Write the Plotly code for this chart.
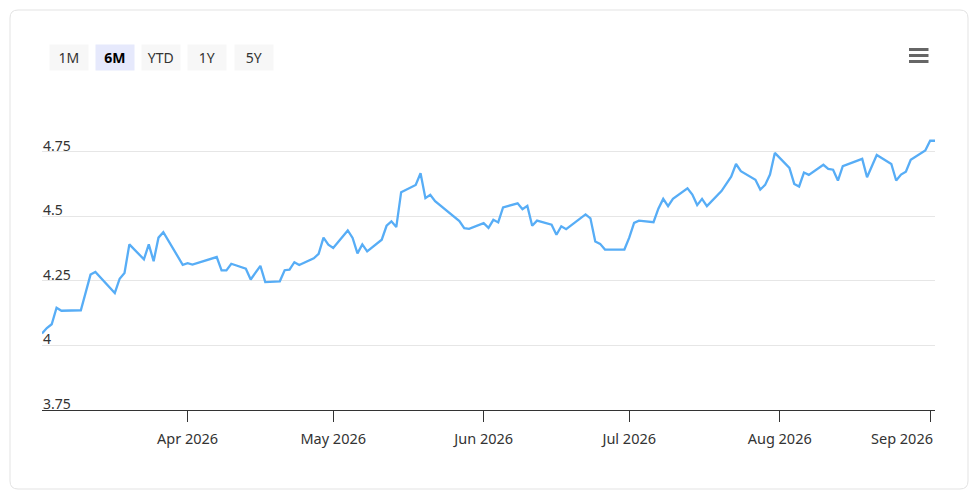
import plotly.graph_objects as go

dates = ["2026-03-02","2026-03-03","2026-03-04","2026-03-05","2026-03-06","2026-03-10","2026-03-12","2026-03-13",
         "2026-03-17","2026-03-18","2026-03-19","2026-03-20","2026-03-23","2026-03-24","2026-03-25","2026-03-26",
         "2026-03-27","2026-03-31","2026-04-01","2026-04-02","2026-04-07","2026-04-08","2026-04-09","2026-04-10",
         "2026-04-13","2026-04-14","2026-04-16","2026-04-17","2026-04-20","2026-04-21","2026-04-22","2026-04-23",
         "2026-04-24","2026-04-27","2026-04-28","2026-04-29","2026-04-30","2026-05-01","2026-05-04","2026-05-05",
         "2026-05-06","2026-05-07","2026-05-08","2026-05-11","2026-05-12","2026-05-13","2026-05-14","2026-05-15",
         "2026-05-18","2026-05-19","2026-05-20","2026-05-21","2026-05-22","2026-05-27","2026-05-28","2026-05-29",
         "2026-06-01","2026-06-02","2026-06-03","2026-06-04","2026-06-05","2026-06-08","2026-06-09","2026-06-10",
         "2026-06-11","2026-06-12","2026-06-15","2026-06-16","2026-06-17","2026-06-18","2026-06-22","2026-06-23",
         "2026-06-24","2026-06-25","2026-06-26","2026-06-30","2026-07-01","2026-07-02","2026-07-03","2026-07-06",
         "2026-07-07","2026-07-08","2026-07-09","2026-07-10","2026-07-13","2026-07-14","2026-07-15","2026-07-16",
         "2026-07-17","2026-07-20","2026-07-22","2026-07-23","2026-07-24","2026-07-27","2026-07-28","2026-07-29",
         "2026-07-30","2026-07-31","2026-08-03","2026-08-04","2026-08-05","2026-08-06","2026-08-07","2026-08-10",
         "2026-08-11","2026-08-12","2026-08-13","2026-08-14","2026-08-18","2026-08-19","2026-08-21","2026-08-24",
         "2026-08-25","2026-08-26","2026-08-27","2026-08-28","2026-08-31","2026-09-01","2026-09-02"]

values = [4.046, 4.067, 4.082, 4.146, 4.134, 4.136, 4.274, 4.284,
          4.203, 4.258, 4.280, 4.391, 4.333, 4.391, 4.326, 4.417,
          4.438, 4.312, 4.318, 4.313, 4.342, 4.290, 4.290, 4.316,
          4.297, 4.255, 4.308, 4.245, 4.248, 4.291, 4.293, 4.322,
          4.311, 4.337, 4.354, 4.417, 4.390, 4.377, 4.445, 4.416,
          4.356, 4.391, 4.364, 4.409, 4.463, 4.480, 4.458, 4.593,
          4.621, 4.666, 4.570, 4.583, 4.558, 4.481, 4.454, 4.451,
          4.473, 4.455, 4.486, 4.476, 4.534, 4.550, 4.527, 4.540,
          4.463, 4.483, 4.467, 4.428, 4.461, 4.450, 4.507, 4.492,
          4.402, 4.393, 4.371, 4.371, 4.417, 4.474, 4.483, 4.477,
          4.529, 4.567, 4.539, 4.567, 4.608, 4.584, 4.543, 4.567,
          4.539, 4.597, 4.653, 4.702, 4.674, 4.641, 4.603, 4.621,
          4.661, 4.745, 4.687, 4.625, 4.615, 4.669, 4.660, 4.699,
          4.683, 4.680, 4.638, 4.694, 4.722, 4.651, 4.737, 4.702,
          4.638, 4.661, 4.672, 4.718, 4.754, 4.792, 4.792]

x_range = ["2026-03-02", "2026-09-02"]
x_tickvals = ["2026-04-01", "2026-05-01", "2026-06-01", "2026-07-01", "2026-08-01", "2026-09-01"]
x_ticktext = ["Apr 2026", "May 2026", "Jun 2026", "Jul 2026", "Aug 2026", "Sep 2026"]
y_range = [3.75, 5.0]
y_tickvals = [3.75, 4.0, 4.25, 4.5, 4.75, 5.0]
y_ticktext = ["3.75", "4", "4.25", "4.5", "4.75", ""]
buttons = ["1M", "6M", "YTD", "1Y", "5Y"]
selected_button = "6M"

W, H = 975, 497
ML, MR, MT, MB = 42, 40, 87, 87
PW = W - ML - MR
PH = H - MT - MB
FONT = "Noto Sans, Open Sans, sans-serif"


def px(x):
    return (x - ML) / PW


def py(y):
    return (H - MB - y) / PH


fig = go.Figure()
fig.add_trace(go.Scatter(
    x=dates, y=values, mode="lines",
    line=dict(color="#57adf6", width=2.3),
    hoverinfo="x+y", showlegend=False,
))

shapes = []
# card with rounded corners
x0, y0, x1, y1, r = 10, 10, 968, 489, 8
pts = [
    f"M {px(x0 + r)},{py(y0)}",
    f"L {px(x1 - r)},{py(y0)}",
    f"Q {px(x1)},{py(y0)} {px(x1)},{py(y0 + r)}",
    f"L {px(x1)},{py(y1 - r)}",
    f"Q {px(x1)},{py(y1)} {px(x1 - r)},{py(y1)}",
    f"L {px(x0 + r)},{py(y1)}",
    f"Q {px(x0)},{py(y1)} {px(x0)},{py(y1 - r)}",
    f"L {px(x0)},{py(y0 + r)}",
    f"Q {px(x0)},{py(y0)} {px(x0 + r)},{py(y0)} Z",
]
shapes.append(dict(type="path", xref="paper", yref="paper", path=" ".join(pts),
                   line=dict(color="#e3e3e3", width=1), fillcolor="rgba(0,0,0,0)", layer="below"))
# hamburger menu icon
for yy in (49.5, 55.5, 61.5):
    shapes.append(dict(type="line", xref="paper", yref="paper",
                       x0=px(909), x1=px(928.5), y0=py(yy), y1=py(yy),
                       line=dict(color="#666666", width=3)))

annotations = []
bx0, bw, bstep, by = 68.7, 39.5, 46.2, 57.3
for i, b in enumerate(buttons):
    sel = b == selected_button
    annotations.append(dict(
        xref="paper", yref="paper", x=px(bx0 + i * bstep), y=py(by),
        text=f"<b>{b}</b>" if sel else b, showarrow=False,
        font=dict(family=FONT, size=14, color="#000000" if sel else "#333333"),
        bgcolor="#e6e9fc" if sel else "#f7f7f7",
        width=bw - 2, height=25, borderpad=0,
        xanchor="center", yanchor="middle",
    ))

# y-axis labels drawn inside the plot, just above their grid lines
for v, t in zip(y_tickvals, y_ticktext):
    if not t:
        continue
    annotations.append(dict(
        xref="paper", yref="y", x=0, y=v, text=t, showarrow=False,
        font=dict(family=FONT, size=14, color="#333333"),
        xanchor="left", yanchor="middle", xshift=-1, yshift=6.5,
    ))

# last x label is kept inside the plot edge (right-aligned), like the reference
tick_font = dict(family=FONT, size=14.5, color="#333333")
shown_ticktext = x_ticktext[:-1] + [""]
annotations.append(dict(
    xref="paper", yref="paper", x=1.0, y=py(438.5),
    text=x_ticktext[-1], showarrow=False, font=tick_font,
    xanchor="right", yanchor="middle",
))

fig.update_layout(
    width=W, height=H,
    margin=dict(l=ML, r=MR, t=MT, b=MB),
    paper_bgcolor="white", plot_bgcolor="white",
    font=dict(family=FONT, size=14, color="#333333"),
    shapes=shapes, annotations=annotations,
    xaxis=dict(
        type="date", range=x_range,
        tickmode="array", tickvals=x_tickvals, ticktext=shown_ticktext,
        showgrid=False, showline=True, linecolor="#333333", linewidth=1,
        ticks="outside", ticklen=11, tickcolor="#333333", tickwidth=1,
        ticklabelstandoff=5,
        tickfont=tick_font,
        zeroline=False, fixedrange=True,
    ),
    yaxis=dict(
        range=y_range, tickmode="array", tickvals=y_tickvals,
        showgrid=True, gridcolor="#e6e6e6", gridwidth=1,
        showline=False, zeroline=False, ticks="", showticklabels=False,
        fixedrange=True,
    ),
)

fig.write_html("out.html", config={"displayModeBar": False},
               post_script="document.body.style.margin='0px';document.body.style.overflow='hidden';")
